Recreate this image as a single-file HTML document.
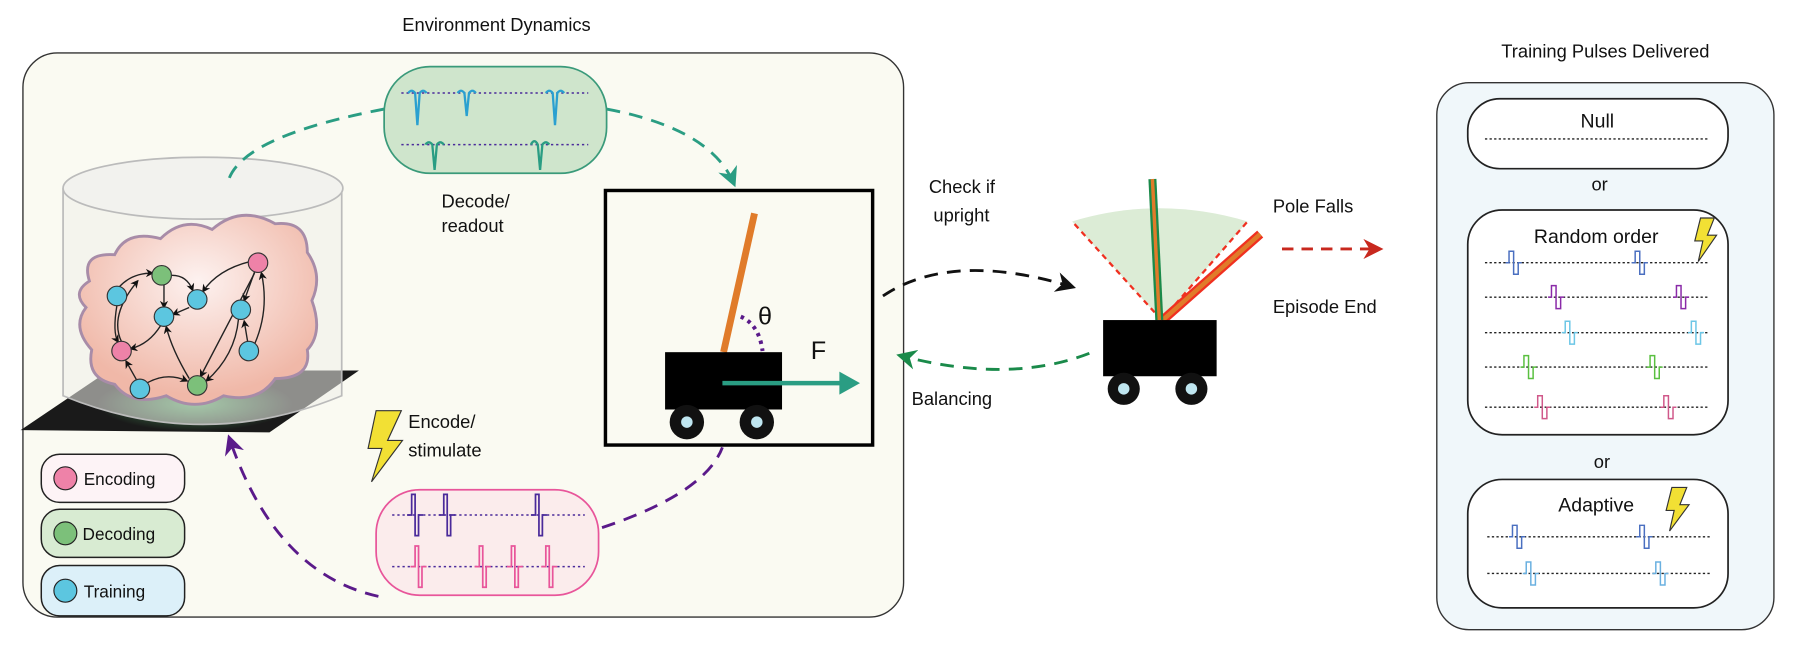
<!DOCTYPE html>
<html><head><meta charset="utf-8"><style>
html,body{margin:0;padding:0;background:#fff;}
svg{display:block;}
text{font-family:"Liberation Sans",Arial,sans-serif;fill:#111;}
</style></head><body>
<svg width="1798" height="647" viewBox="0 0 1568 564" xmlns="http://www.w3.org/2000/svg">
<defs>
<marker id="aT" viewBox="0 0 10 10" refX="8" refY="5" markerWidth="7" markerHeight="7" orient="auto-start-reverse"><path d="M0,0 L10,5 L0,10 L3,5z" fill="#2a9d83"/></marker>
<marker id="aP" viewBox="0 0 10 10" refX="8" refY="5" markerWidth="7" markerHeight="7" orient="auto-start-reverse"><path d="M0,0 L10,5 L0,10 L3,5z" fill="#5a1a8a"/></marker>
<marker id="aK" viewBox="0 0 10 10" refX="8" refY="5" markerWidth="7" markerHeight="7" orient="auto-start-reverse"><path d="M0,0 L10,5 L0,10 L3,5z" fill="#111"/></marker>
<marker id="aG" viewBox="0 0 10 10" refX="8" refY="5" markerWidth="7" markerHeight="7" orient="auto-start-reverse"><path d="M0,0 L10,5 L0,10 L3,5z" fill="#1a8a4a"/></marker>
<marker id="aR" viewBox="0 0 10 10" refX="8" refY="5" markerWidth="7" markerHeight="7" orient="auto-start-reverse"><path d="M0,0 L10,5 L0,10 L3,5z" fill="#c8281e"/></marker>
<marker id="sm" viewBox="0 0 10 10" refX="8" refY="5" markerWidth="6" markerHeight="6" orient="auto"><path d="M0,0 L10,5 L0,10 L3,5z" fill="#111"/></marker>
<radialGradient id="brainG" cx="0.5" cy="0.35" r="0.6"><stop offset="0" stop-color="#fdf2f0"/><stop offset="1" stop-color="#f0b8a8"/></radialGradient>
<radialGradient id="glow" cx="0.5" cy="0.5" r="0.5"><stop offset="0" stop-color="#4a9a5a"/><stop offset="1" stop-color="#4a9a5a" stop-opacity="0"/></radialGradient>
</defs>

<text x="433" y="27" font-size="16" text-anchor="middle">Environment Dynamics</text>
<rect x="20" y="46" width="768" height="492" rx="30" fill="#fafaf2" stroke="#333" stroke-width="1.2"/>

<polygon points="18,375 95,323 313,323 235,377" fill="#1a1a1a"/>
<ellipse cx="170" cy="352" rx="85" ry="24" fill="url(#glow)"/>
<path d="M55,164 L55,345 Q177,395 298,345 L298,164" fill="#eeeeea" fill-opacity="0.55" stroke="#bbb" stroke-width="1.5"/>
<ellipse cx="177" cy="164" rx="122" ry="27" fill="#f2f2ee" stroke="#bbb" stroke-width="1.5"/>
<path d="M78,245 Q70,220 100,222 Q110,200 140,208 Q160,188 185,200 Q210,178 240,195 Q268,192 268,220 Q282,240 272,262 Q282,290 268,305 Q272,330 240,330 Q225,352 195,345 Q170,360 145,345 Q115,355 100,335 Q75,330 80,305 Q62,285 75,268 Q62,255 78,245z" fill="url(#brainG)" stroke="#a88ca8" stroke-width="2.5"/>
<g stroke="#222" stroke-width="1.2" fill="none" marker-end="url(#sm)">
<path d="M104,250 Q115,238 133,238"/>
<path d="M106,298 Q95,275 120,245"/>
<path d="M102,266 Q98,290 103,298"/>
<path d="M150,240 Q163,240 168,253"/>
<path d="M143,248 L143,268"/>
<path d="M165,268 L151,274"/>
<path d="M140,284 Q130,300 114,304"/>
<path d="M218,228 Q190,235 177,254"/>
<path d="M222,237 L213,262"/>
<path d="M222,238 Q195,290 175,328"/>
<path d="M208,278 Q205,310 180,332"/>
<path d="M216,298 L213,280"/>
<path d="M222,300 Q235,270 228,238"/>
<path d="M165,330 Q150,305 145,285"/>
<path d="M128,334 Q145,324 163,332"/>
<path d="M119,331 L110,315"/>
</g>
<g stroke="#333" stroke-width="1">
<circle cx="225" cy="229" r="8.5" fill="#ee82a8"/>
<circle cx="141" cy="240" r="8.5" fill="#7cc07a"/>
<circle cx="102" cy="258" r="8.5" fill="#5cc6e0"/>
<circle cx="172" cy="261" r="8.5" fill="#5cc6e0"/>
<circle cx="143" cy="276" r="8.5" fill="#5cc6e0"/>
<circle cx="210" cy="270" r="8.5" fill="#5cc6e0"/>
<circle cx="106" cy="306" r="8.5" fill="#ee82a8"/>
<circle cx="217" cy="306" r="8.5" fill="#5cc6e0"/>
<circle cx="122" cy="339" r="8.5" fill="#5cc6e0"/>
<circle cx="172" cy="336" r="8.5" fill="#7cc07a"/>
</g>

<path d="M200,155 Q215,118 335,95" fill="none" stroke="#2a9d83" stroke-width="2.5" stroke-dasharray="12,8"/>
<path d="M529,95 Q620,112 640,160" fill="none" stroke="#2a9d83" stroke-width="2.5" stroke-dasharray="12,8" marker-end="url(#aT)"/>
<rect x="335" y="58" width="194" height="93" rx="40" fill="#cfe5cc" stroke="#3a9a7a" stroke-width="1.5"/>
<g stroke="#4a2a9a" stroke-width="1.3" stroke-dasharray="2,2.5"><line x1="350" y1="81" x2="513" y2="81"/><line x1="350" y1="126" x2="513" y2="126"/></g>
<g fill="none" stroke="#2aa0d0" stroke-width="2"><path d="M356,81 q3,-4 6,0 l2,28 l2,-28 q3,-4 6,0"/><path d="M399,81 q3,-4 6,0 l2,20 l2,-20 q3,-4 6,0"/><path d="M476,81 q3,-4 6,0 l2,28 l2,-28 q3,-4 6,0"/></g>
<g fill="none" stroke="#2a9d83" stroke-width="2"><path d="M371,126 q3,-4 6,0 l2,22 l2,-22 q3,-4 6,0"/><path d="M463,126 q3,-6 6,0 l2,22 l2,-22 q3,-4 6,0"/></g>
<text x="385" y="181" font-size="16">Decode/</text>
<text x="385" y="202" font-size="16">readout</text>

<rect x="528" y="166" width="233" height="222" fill="none" stroke="#000" stroke-width="3"/>
<line x1="658" y1="186" x2="631" y2="307" stroke="#e07b2a" stroke-width="6"/>
<path d="M646,276 Q662,283 665,306" fill="none" stroke="#5a1a8a" stroke-width="3.5" stroke-dasharray="3,4"/>
<text x="661" y="283" font-size="22" font-family="Liberation Serif">θ</text>
<rect x="580" y="307" width="102" height="50" fill="#000"/>
<text x="707" y="313" font-size="22">F</text>
<line x1="630" y1="334" x2="738" y2="334" stroke="#2a9d83" stroke-width="4"/>
<polygon points="732,324 750,334 732,344" fill="#2a9d83"/>
<circle cx="599" cy="368" r="15" fill="#111"/><circle cx="599" cy="368" r="5" fill="#bfe6f0"/>
<circle cx="660" cy="368" r="15" fill="#111"/><circle cx="660" cy="368" r="5" fill="#bfe6f0"/>

<path d="M330,520 Q240,500 200,382" fill="none" stroke="#5a1a8a" stroke-width="2.5" stroke-dasharray="12,8" marker-end="url(#aP)"/>
<path d="M525,460 Q615,430 630,390" fill="none" stroke="#5a1a8a" stroke-width="2.5" stroke-dasharray="12,8"/>
<rect x="328" y="427" width="194" height="92" rx="38" fill="#fbecec" stroke="#e8559a" stroke-width="1.5"/>
<g stroke="#4a2a9a" stroke-width="1.3" stroke-dasharray="2,2.5"><line x1="342" y1="449" x2="510" y2="449"/><line x1="342" y1="494" x2="510" y2="494"/></g>
<g fill="none" stroke="#4a2a9a" stroke-width="1.5"><path d="M355,449 h4 v-18 h3 v36 h3 v-18 h4"/><path d="M383,449 h4 v-18 h3 v36 h3 v-18 h4"/><path d="M463,449 h4 v-18 h3 v36 h3 v-18 h4"/></g>
<g fill="none" stroke="#e8559a" stroke-width="1.5"><path d="M358,494 h4 v-18 h3 v36 h3 v-18 h4"/><path d="M414,494 h4 v-18 h3 v36 h3 v-18 h4"/><path d="M442,494 h4 v-18 h3 v36 h3 v-18 h4"/><path d="M472,494 h4 v-18 h3 v36 h3 v-18 h4"/></g>
<polygon points="328,358 350,358 338,384 351,384 324,420 333,391 321,391" fill="#f2e034" stroke="#333" stroke-width="1"/>
<text x="356" y="373" font-size="16">Encode/</text>
<text x="356" y="398" font-size="16">stimulate</text>

<rect x="36" y="396" width="125" height="42" rx="16" fill="#fdf3f6" stroke="#222" stroke-width="1.3"/>
<circle cx="57" cy="417" r="10" fill="#ee82a8" stroke="#222"/><text x="73" y="423" font-size="15">Encoding</text>
<rect x="36" y="444" width="125" height="42" rx="16" fill="#d8ebd2" stroke="#222" stroke-width="1.3"/>
<circle cx="57" cy="465" r="10" fill="#7cc07a" stroke="#222"/><text x="72" y="471" font-size="15">Decoding</text>
<rect x="36" y="493" width="125" height="44" rx="16" fill="#dcf0f9" stroke="#222" stroke-width="1.3"/>
<circle cx="57" cy="515" r="10" fill="#5cc6e0" stroke="#222"/><text x="73" y="521" font-size="15">Training</text>

<text x="810" y="168" font-size="16">Check if</text>
<text x="814" y="193" font-size="16">upright</text>
<path d="M770,258 Q830,218 935,250" fill="none" stroke="#111" stroke-width="2.5" stroke-dasharray="12,8" marker-end="url(#aK)"/>
<path d="M950,308 Q880,335 785,310" fill="none" stroke="#1a8a4a" stroke-width="2.5" stroke-dasharray="12,8" marker-end="url(#aG)"/>
<text x="795" y="353" font-size="16">Balancing</text>

<path d="M1013,279 L935,193 Q1011,170 1088,193 Z" fill="#dcecd6"/>
<line x1="1013" y1="279" x2="935" y2="193" stroke="#f03020" stroke-width="2" stroke-dasharray="5,4"/>
<line x1="1013" y1="279" x2="1088" y2="193" stroke="#f03020" stroke-width="2" stroke-dasharray="5,4"/>
<line x1="1014" y1="279" x2="1099" y2="204" stroke="#f03020" stroke-width="8"/>
<line x1="1014" y1="279" x2="1099" y2="204" stroke="#e07b2a" stroke-width="4"/>
<line x1="1011" y1="279" x2="1005" y2="156" stroke="#1a8a4a" stroke-width="7"/>
<line x1="1011" y1="279" x2="1005" y2="156" stroke="#e07b2a" stroke-width="3"/>
<rect x="962" y="279" width="99" height="49" fill="#000"/>
<circle cx="980" cy="339" r="14" fill="#111"/><circle cx="980" cy="339" r="5" fill="#bfe6f0"/>
<circle cx="1039" cy="339" r="14" fill="#111"/><circle cx="1039" cy="339" r="5" fill="#bfe6f0"/>
<text x="1110" y="185" font-size="16">Pole Falls</text>
<text x="1110" y="273" font-size="16">Episode End</text>
<path d="M1118,217 L1203,217" fill="none" stroke="#c8281e" stroke-width="2.5" stroke-dasharray="10,7" marker-end="url(#aR)"/>

<text x="1400" y="50" font-size="16" text-anchor="middle">Training Pulses Delivered</text>
<rect x="1253" y="72" width="294" height="477" rx="28" fill="#f0f7fa" stroke="#333" stroke-width="1.2"/>
<rect x="1280" y="86" width="227" height="61" rx="28" fill="#fff" stroke="#222" stroke-width="1.5"/>
<text x="1393" y="111" font-size="17" text-anchor="middle">Null</text>
<line x1="1295" y1="121" x2="1490" y2="121" stroke="#222" stroke-width="1.2" stroke-dasharray="2,2"/>
<text x="1395" y="166" font-size="16" text-anchor="middle">or</text>
<rect x="1280" y="183" width="227" height="196" rx="30" fill="#fff" stroke="#222" stroke-width="1.5"/>
<text x="1392" y="212" font-size="17" text-anchor="middle">Random order</text>
<polygon points="1483,190 1495,190 1489,205 1497,205 1481,228 1485,210 1478,210" fill="#f2e034" stroke="#333" stroke-width="1"/>
<g stroke="#222" stroke-width="1.2" stroke-dasharray="2,2"><line x1="1295" y1="229" x2="1490" y2="229"/><line x1="1295" y1="259" x2="1490" y2="259"/><line x1="1295" y1="290" x2="1490" y2="290"/><line x1="1295" y1="320" x2="1490" y2="320"/><line x1="1295" y1="355" x2="1490" y2="355"/></g>
<g fill="none" stroke-width="1.3">
<path stroke="#4a6fc0" d="M1313,229 h3 v-10 h4 v20 h4 v-10 h3"/><path stroke="#4a6fc0" d="M1423,229 h3 v-10 h4 v20 h4 v-10 h3"/>
<path stroke="#8a2aa8" d="M1350,259 h3 v-10 h4 v20 h4 v-10 h3"/><path stroke="#8a2aa8" d="M1459,259 h3 v-10 h4 v20 h4 v-10 h3"/>
<path stroke="#6cc6e6" d="M1362,290 h3 v-10 h4 v20 h4 v-10 h3"/><path stroke="#6cc6e6" d="M1472,290 h3 v-10 h4 v20 h4 v-10 h3"/>
<path stroke="#5ac040" d="M1326,320 h3 v-10 h4 v20 h4 v-10 h3"/><path stroke="#5ac040" d="M1436,320 h3 v-10 h4 v20 h4 v-10 h3"/>
<path stroke="#d0588a" d="M1338,355 h3 v-10 h4 v20 h4 v-10 h3"/><path stroke="#d0588a" d="M1448,355 h3 v-10 h4 v20 h4 v-10 h3"/>
</g>
<text x="1397" y="408" font-size="16" text-anchor="middle">or</text>
<rect x="1280" y="418" width="227" height="112" rx="30" fill="#fff" stroke="#222" stroke-width="1.5"/>
<text x="1392" y="446" font-size="17" text-anchor="middle">Adaptive</text>
<polygon points="1458,425 1471,425 1465,440 1473,440 1456,463 1460,445 1453,445" fill="#f2e034" stroke="#333" stroke-width="1"/>
<g stroke="#222" stroke-width="1.2" stroke-dasharray="2,2"><line x1="1297" y1="468" x2="1492" y2="468"/><line x1="1297" y1="500" x2="1492" y2="500"/></g>
<g fill="none" stroke-width="1.3">
<path stroke="#4a6fc0" d="M1316,468 h3 v-10 h4 v20 h4 v-10 h3"/><path stroke="#4a6fc0" d="M1427,468 h3 v-10 h4 v20 h4 v-10 h3"/>
<path stroke="#6ab0e0" d="M1328,500 h3 v-10 h4 v20 h4 v-10 h3"/><path stroke="#6ab0e0" d="M1441,500 h3 v-10 h4 v20 h4 v-10 h3"/>
</g>
</svg>
</body></html>
